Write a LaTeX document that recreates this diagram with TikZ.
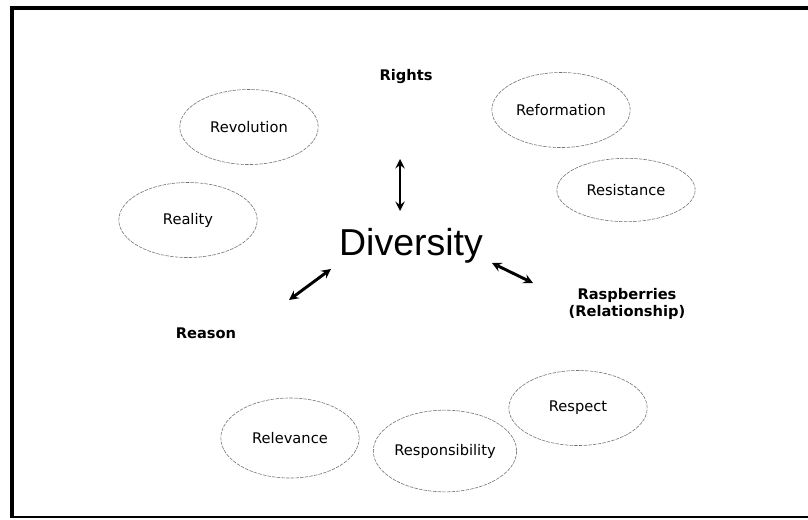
\documentclass[tikz,border=0pt]{standalone}
\usepackage{fontspec}
\setmainfont{DejaVu Sans}
\newfontfamily\arialfont{Liberation Sans}
\usetikzlibrary{shapes.geometric, arrows}
\tikzstyle{idea} = [ellipse, 
minimum width=4.15cm, 
minimum height=2.25cm, 
inner sep=0pt,
draw=black!55, 
dash pattern=on 3pt off 1pt, 
line width=0.5pt,
font=\fontsize{12.5}{14}\selectfont]
\tikzstyle{keyword} = [align=center, 
font=\bfseries\fontsize{12.5}{14.5}\selectfont]
\tikzstyle{centre} = [font=\arialfont\fontsize{32}{36}\selectfont]
\tikzstyle{arrow} = [line width=2.5pt,<->,>=stealth]

\begin{document}
\begin{tikzpicture}[x=0.03cm, y=-0.03cm]
\useasboundingbox (0,0) rectangle (808,519);
% frame
\draw [line width=4.2pt, line join=miter] (808,8) -- (12,8) -- (12,518);
\draw [line width=1.8pt] (10,517) -- (808,517);

\node (div) [centre] at (411,246) {Diversity};
\node (rights) [keyword] at (406,77) {Rights};
\node (reason) [keyword] at (206,333) {Reason};
\node (rasp) [keyword] at (627,304) {Raspberries\\(Relationship)};

\node (revolution) [idea] at (249,127) {Revolution};
\node (reality) [idea] at (188,220) {Reality};
\node (reformation) [idea] at (561,110) {Reformation};
\node (resistance) [idea, minimum height=1.9cm] at (626,190) {Resistance};
\node (respect) [idea] at (578,408) {Respect};
\node (responsibility) [idea, minimum height=2.45cm] at (445,451) {Responsibility};
\node (relevance) [idea, minimum height=2.4cm] at (290,438) {Relevance};

% arrow ends
\coordinate (up1) at (400,159);
\coordinate (up2) at (400,211);
\coordinate (left1) at (331,269);
\coordinate (left2) at (289,300);
\coordinate (right1) at (492,263);
\coordinate (right2) at (533,283);

\draw [arrow] (up1) -- (up2);
\draw [arrow] (left1) -- (left2);
\draw [arrow] (right1) -- (right2);
\end{tikzpicture}
\end{document}
